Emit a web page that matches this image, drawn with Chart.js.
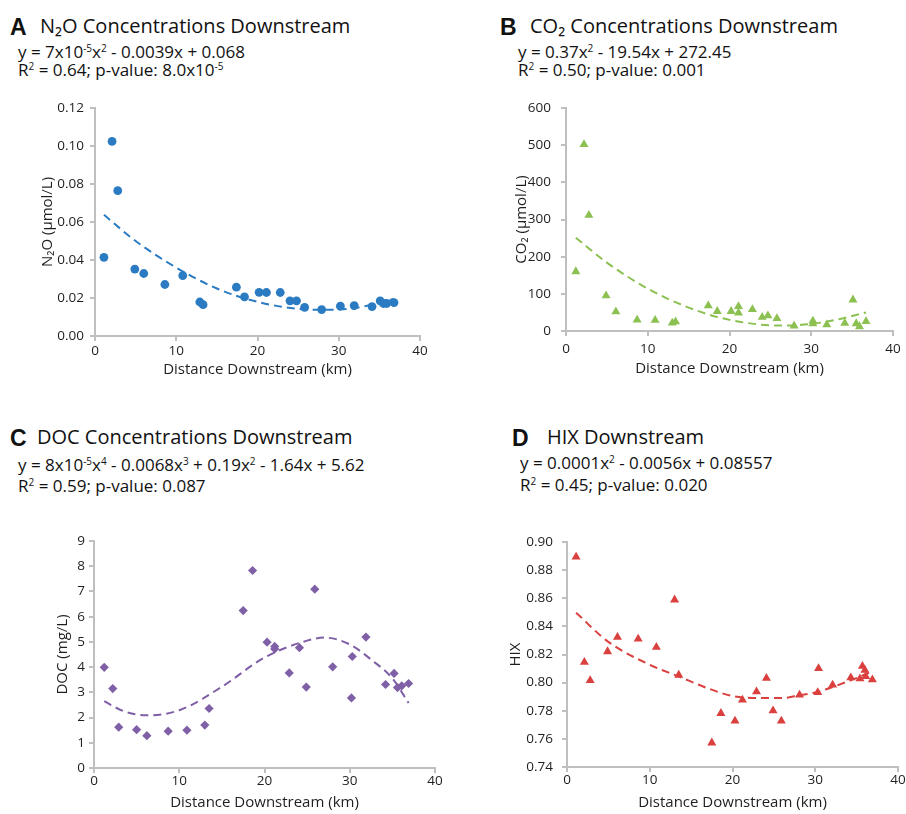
<!DOCTYPE html>
<html>
<head>
<meta charset="utf-8">
<title>Downstream concentrations</title>
<script src="https://cdn.jsdelivr.net/npm/chart.js@4.4.1/dist/chart.umd.min.js"></script>
<style>
  body { margin: 0; background: #fff; width: 906px; height: 814px; position: relative; overflow: hidden;
         font-family: "Open Sans", sans-serif; color: #111; }
  .box { position: absolute; }
  .letter { position: absolute; font-family: "Liberation Sans", Arial, sans-serif; font-weight: bold; font-size: 23px; line-height: 1; }
  .ttl { position: absolute; font-size: 20px; line-height: 1; white-space: nowrap; }
  .eq { position: absolute; font-size: 17px; line-height: 1; white-space: nowrap; }
  .eq sup { font-size: 10px; vertical-align: 6px; line-height: 0; }
  canvas { display: block; }
</style>
</head>
<body>
<div class="letter" style="left:10px;top:16px">A</div>
<div class="ttl" style="left:40px;top:16px">N₂O Concentrations Downstream</div>
<div class="eq" style="left:18px;top:43px">y = 7x10<sup>-5</sup>x<sup>2</sup> - 0.0039x + 0.068</div>
<div class="eq" style="left:18px;top:61px">R<sup>2</sup> = 0.64; p-value: 8.0x10<sup>-5</sup></div>

<div class="letter" style="left:500px;top:16px">B</div>
<div class="ttl" style="left:530px;top:16px">CO₂ Concentrations Downstream</div>
<div class="eq" style="left:518px;top:43px">y = 0.37x<sup>2</sup> - 19.54x + 272.45</div>
<div class="eq" style="left:518px;top:61px">R<sup>2</sup> = 0.50; p-value: 0.001</div>

<div class="letter" style="left:10px;top:427px">C</div>
<div class="ttl" style="left:37px;top:427px">DOC Concentrations Downstream</div>
<div class="eq" style="left:18px;top:456px">y = 8x10<sup>-5</sup>x<sup>4</sup> - 0.0068x<sup>3</sup> + 0.19x<sup>2</sup> - 1.64x + 5.62</div>
<div class="eq" style="left:18px;top:477px">R<sup>2</sup> = 0.59; p-value: 0.087</div>

<div class="letter" style="left:512px;top:427px">D</div>
<div class="ttl" style="left:547px;top:427px">HIX Downstream</div>
<div class="eq" style="left:520px;top:454px">y = 0.0001x<sup>2</sup> - 0.0056x + 0.08557</div>
<div class="eq" style="left:520px;top:476px">R<sup>2</sup> = 0.45; p-value: 0.020</div>

<div class="box" style="left:0;top:90px;width:453px;height:300px"><canvas id="chartA"></canvas></div>
<div class="box" style="left:460px;top:90px;width:446px;height:300px"><canvas id="chartB"></canvas></div>
<div class="box" style="left:0;top:520px;width:453px;height:294px"><canvas id="chartC"></canvas></div>
<div class="box" style="left:460px;top:520px;width:446px;height:294px"><canvas id="chartD"></canvas></div>

<script>
// --- A: N2O ---
const distA = [1.1, 2.1, 2.8, 4.9, 6.0, 8.6, 10.8, 12.9, 13.3, 17.4, 18.4, 20.2, 21.1, 22.8, 24.0, 24.8, 25.8, 27.9, 30.2, 31.9, 34.1, 35.1, 35.5, 35.9, 36.8];
const n2o = [0.0414, 0.1024, 0.0765, 0.0352, 0.0329, 0.0271, 0.0318, 0.0179, 0.0165, 0.0257, 0.0206, 0.0230, 0.0229, 0.0229, 0.0185, 0.0185, 0.0151, 0.0139, 0.0157, 0.0160, 0.0155, 0.0185, 0.0171, 0.0171, 0.0176];
const trendAx = [1.1, 5, 10, 15, 20, 25, 28, 32, 36.8];
const trendAy = [0.0638, 0.050, 0.036, 0.025, 0.018, 0.0143, 0.0138, 0.0147, 0.0195];

// --- B: CO2 ---
const distB = [1.2, 2.2, 2.8, 4.9, 6.1, 8.7, 10.9, 13.0, 13.4, 17.4, 18.5, 20.2, 21.1, 21.1, 22.8, 24.0, 24.7, 25.8, 27.9, 30.2, 30.2, 31.9, 34.1, 35.1, 35.5, 35.9, 36.7];
const co2 = [160, 502, 312, 95, 52, 30, 29, 22, 25, 68, 53, 53, 66, 49, 58, 37, 41, 34, 14, 27, 20, 17, 21, 84, 20, 12, 26];
const trendBx = [1.2, 5, 10, 15, 20, 26.4, 30, 33, 36.7];
const trendBy = [251, 184, 114, 63, 30, 14.5, 19, 30, 50];

// --- C: DOC ---
const distC = [1.2, 2.2, 2.9, 5.0, 6.2, 8.7, 10.9, 13.0, 13.5, 17.5, 18.6, 20.3, 21.2, 21.2, 22.9, 24.1, 24.9, 25.9, 28.0, 30.2, 30.3, 31.9, 34.2, 35.2, 35.6, 36.1, 36.9];
const doc = [3.99, 3.15, 1.62, 1.52, 1.28, 1.46, 1.50, 1.70, 2.36, 6.24, 7.83, 4.99, 4.82, 4.72, 3.77, 4.77, 3.21, 7.09, 4.01, 2.78, 4.42, 5.19, 3.31, 3.75, 3.19, 3.26, 3.35];
const trendCx = [1.2, 3.5, 6.2, 10, 15, 20, 25, 27, 30, 32.5, 35, 36.9];
const trendCy = [2.65, 2.25, 2.09, 2.29, 3.22, 4.38, 5.05, 5.17, 4.9, 4.3, 3.55, 2.58];

// --- D: HIX ---
const distD = [1.1, 2.1, 2.8, 4.9, 6.1, 8.6, 10.8, 13.0, 13.5, 17.5, 18.6, 20.3, 21.2, 22.9, 24.1, 24.9, 25.9, 28.1, 30.3, 30.4, 32.1, 34.3, 35.4, 35.7, 36.0, 36.1, 36.9];
const hix = [0.8894, 0.8146, 0.8016, 0.8221, 0.8323, 0.8311, 0.8252, 0.8589, 0.8054, 0.7572, 0.7782, 0.7728, 0.7877, 0.7936, 0.8032, 0.7801, 0.7728, 0.7912, 0.7931, 0.8101, 0.7983, 0.8035, 0.8028, 0.8117, 0.8089, 0.8044, 0.8021];
const trendDx = [1.1, 5, 10, 13.5, 17, 20, 23, 26, 28, 30, 34, 36.9];
const trendDy = [0.8497, 0.829, 0.8127, 0.8044, 0.796, 0.7905, 0.789, 0.789, 0.791, 0.793, 0.801, 0.808];

const xTicks = [0, 10, 20, 30, 40];

const AXIS = '#bfbfbf';
const TICK_TEXT = '#1f1f1f';
const FONT = '"Open Sans", sans-serif';

function pairs(xs, ys) {
  return xs.map((x, i) => ({ x: x, y: ys[i] }));
}

function makePanel(id, cfg) {
  const ctx = document.getElementById(id).getContext('2d');
  return new Chart(ctx, {
    type: 'scatter',
    data: {
      datasets: [
        {
          data: pairs(cfg.xs, cfg.ys),
          pointStyle: cfg.pointStyle,
          pointRadius: cfg.radius,
          pointHoverRadius: cfg.radius,
          backgroundColor: cfg.color,
          borderColor: cfg.color,
          borderWidth: 0,
          order: 1
        },
        {
          type: 'line',
          data: pairs(cfg.tx, cfg.ty),
          borderColor: cfg.color,
          borderWidth: 2,
          borderDash: [8, 5],
          pointRadius: 0,
          fill: false,
          cubicInterpolationMode: 'monotone',
          order: 2
        }
      ]
    },
    options: {
      responsive: true,
      maintainAspectRatio: false,
      animation: false,
      events: [],
      layout: { padding: { left: 0, top: cfg.padTop, right: cfg.padRight, bottom: 0 } },
      plugins: { legend: { display: false }, tooltip: { enabled: false } },
      scales: {
        x: {
          type: 'linear',
          min: 0, max: 40,
          afterBuildTicks: (axis) => { axis.ticks = xTicks.map(v => ({ value: v })); },
          grid: { drawOnChartArea: false, drawTicks: true, tickLength: 5, color: AXIS, lineWidth: 2 },
          border: { color: AXIS, width: 2 },
          ticks: { color: TICK_TEXT, font: { family: FONT, size: 13.5 }, padding: cfg.xTickPad, maxRotation: 0 },
          title: { display: true, text: 'Distance Downstream (km)', color: TICK_TEXT,
                   font: { family: FONT, size: 15 }, padding: { top: 0, bottom: cfg.xTitlePad } },
          afterFit: (axis) => { axis.height = cfg.xAxisH; }
        },
        y: {
          type: 'linear',
          min: cfg.yMin, max: cfg.yMax,
          afterBuildTicks: (axis) => { axis.ticks = cfg.yTicks.map(v => ({ value: v })); },
          grid: { drawOnChartArea: false, drawTicks: true, tickLength: 5, color: AXIS, lineWidth: 2 },
          border: { color: AXIS, width: 2 },
          ticks: { color: TICK_TEXT, font: { family: FONT, size: 13.5 }, padding: cfg.yTickPad,
                   callback: (v) => v.toFixed(cfg.dec) },
          title: { display: true, text: cfg.yTitle, color: TICK_TEXT,
                   font: { family: FONT, size: 15 }, padding: { top: cfg.yTitlePad, bottom: 0 } },
          afterFit: (axis) => { axis.width = cfg.yAxisW; }
        }
      }
    }
  });
}

makePanel('chartA', {
  xs: distA, ys: n2o, tx: trendAx, ty: trendAy, color: '#2b7bc2', pointStyle: 'circle', radius: 4.4,
  yMin: 0, yMax: 0.12, yTicks: [0, 0.02, 0.04, 0.06, 0.08, 0.10, 0.12], dec: 2,
  yTitle: 'N₂O (µmol/L)', yAxisW: 95, padTop: 18, padRight: 33, xAxisH: 54,
  xTickPad: 2, yTickPad: 6, xTitlePad: 11, yTitlePad: 39
});

makePanel('chartB', {
  xs: distB, ys: co2, tx: trendBx, ty: trendBy, color: '#8cc152', pointStyle: 'triangle', radius: 5.2,
  yMin: 0, yMax: 600, yTicks: [0, 100, 200, 300, 400, 500, 600], dec: 0,
  yTitle: 'CO₂ (µmol/L)', yAxisW: 106, padTop: 16, padRight: 13, xAxisH: 59,
  xTickPad: 5, yTickPad: 10, xTitlePad: 12, yTitlePad: 53
});

makePanel('chartC', {
  xs: distC, ys: doc, tx: trendCx, ty: trendCy, color: '#7f5fa6', pointStyle: 'rectRot', radius: 4.6,
  yMin: 0, yMax: 9, yTicks: [0, 1, 2, 3, 4, 5, 6, 7, 8, 9], dec: 0,
  yTitle: 'DOC (mg/L)', yAxisW: 94, padTop: 21, padRight: 18, xAxisH: 46,
  xTickPad: 0, yTickPad: 4, xTitlePad: 2, yTitlePad: 54
});

makePanel('chartD', {
  xs: distD, ys: hix, tx: trendDx, ty: trendDy, color: '#d9403e', pointStyle: 'triangle', radius: 5.2,
  yMin: 0.74, yMax: 0.90, yTicks: [0.74, 0.76, 0.78, 0.80, 0.82, 0.84, 0.86, 0.88, 0.90], dec: 2,
  yTitle: 'HIX', yAxisW: 107, padTop: 22, padRight: 8, xAxisH: 47,
  xTickPad: 0, yTickPad: 9, xTitlePad: 2, yTitlePad: 47
});
</script>
</body>
</html>
